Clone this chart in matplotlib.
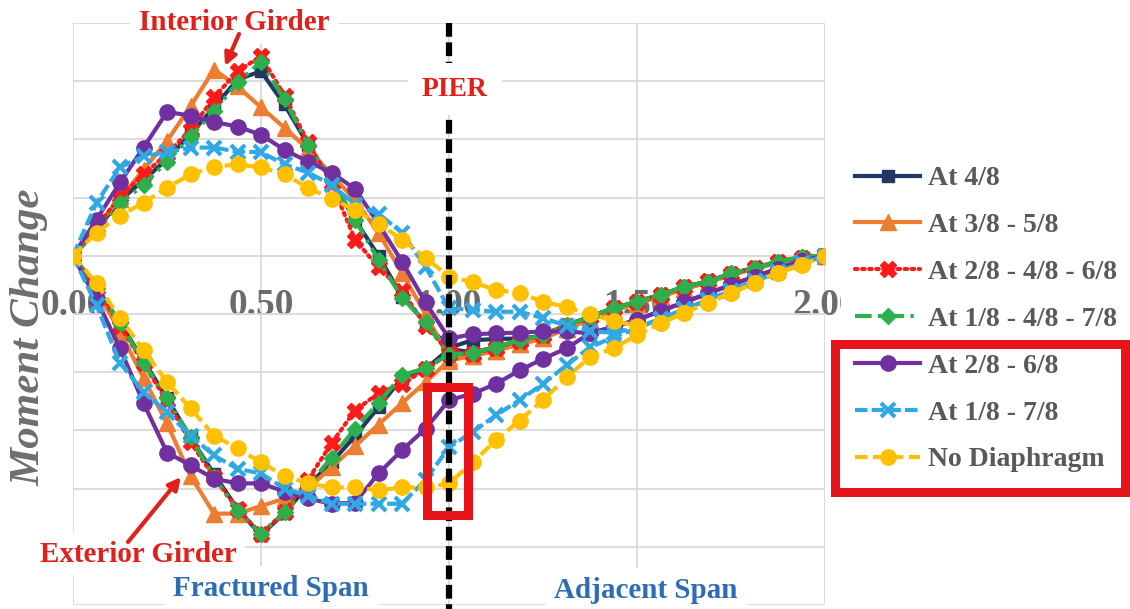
import numpy as np
import matplotlib
matplotlib.use('Agg')
from matplotlib import pyplot as plt
from matplotlib.patches import Rectangle, FancyArrowPatch

plt.rcParams['font.family'] = ['Liberation Serif', 'DejaVu Serif']
plt.rcParams['font.weight'] = 'bold'

W, H = 1130, 609

# span position (0-1 fractured span, 1-2 adjacent span), 1/16 steps
x = np.linspace(0, 2, 33)
x_ticks = [0.0, 0.5, 1.0, 1.5, 2.0]
x_tick_labels = ['0.00', '0.50', '1.00', '1.50', '2.00']
pier_x = 1.0
box_x = [0.941, 1.051]
box_y = [-4.45, -2.26]

labels = ['At 4/8', 'At 3/8 - 5/8', 'At 2/8 - 4/8 - 6/8', 'At 1/8 - 4/8 - 7/8',
          'At 2/8 - 6/8', 'At 1/8 - 7/8', 'No Diaphragm']

# moment change, interior girder
int_48 = [0, 0.45, 0.95, 1.3, 1.66, 2.09, 2.55, 3.03, 3.17, 2.6, 1.91, 1.3, 0.62, 0.0, -0.7, -1.15, -1.58,
          -1.45, -1.43, -1.42, -1.38, -1.22, -1.05, -0.9, -0.79, -0.67, -0.54, -0.44, -0.31, -0.21, -0.1, -0.03, 0]
int_3858 = [0, 0.5, 0.98, 1.48, 1.97, 2.57, 3.2, 2.91, 2.55, 2.2, 1.83, 1.4, 0.95, 0.4, -0.3, -1.0, -1.75,
            -1.72, -1.63, -1.52, -1.42, -1.25, -1.1, -0.94, -0.82, -0.7, -0.57, -0.46, -0.33, -0.22, -0.12, -0.04, 0]
int_284868 = [0, 0.5, 1.02, 1.4, 1.75, 2.17, 2.72, 3.17, 3.43, 2.75, 1.95, 1.25, 0.28, -0.2, -0.6, -1.2, -1.65,
              -1.68, -1.58, -1.46, -1.36, -1.2, -1.05, -0.9, -0.79, -0.67, -0.54, -0.44, -0.31, -0.21, -0.1, -0.03, 0]
int_184878 = [0, 0.42, 0.9, 1.22, 1.62, 2.05, 2.48, 2.98, 3.33, 2.69, 1.91, 1.3, 0.62, -0.07, -0.72, -1.14, -1.7,
              -1.67, -1.57, -1.45, -1.36, -1.19, -1.05, -0.9, -0.79, -0.67, -0.53, -0.45, -0.3, -0.21, -0.1, -0.02, 0]
int_2868 = [0, 0.62, 1.26, 1.86, 2.47, 2.41, 2.3, 2.22, 2.08, 1.82, 1.62, 1.43, 1.15, 0.55, -0.1, -0.8, -1.42,
            -1.35, -1.33, -1.32, -1.3, -1.3, -1.33, -1.22, -1.1, -0.95, -0.8, -0.65, -0.5, -0.36, -0.22, -0.09, 0]
int_1878 = [0, 0.91, 1.52, 1.71, 1.78, 1.86, 1.86, 1.79, 1.78, 1.57, 1.43, 1.22, 0.88, 0.72, 0.4, -0.19, -0.9,
            -0.93, -0.96, -0.96, -1.07, -1.2, -1.3, -1.32, -1.24, -1.08, -0.92, -0.76, -0.6, -0.44, -0.28, -0.13, 0]
int_none = [0, 0.4, 0.69, 0.91, 1.17, 1.4, 1.53, 1.57, 1.52, 1.4, 1.17, 0.98, 0.79, 0.55, 0.28, -0.03, -0.36,
            -0.45, -0.59, -0.64, -0.79, -0.88, -1.0, -1.12, -1.2, -1.16, -0.98, -0.81, -0.64, -0.47, -0.29, -0.16, 0]

# moment change, exterior girder
ext_48 = [0, -0.55, -1.15, -1.8, -2.45, -3.12, -3.75, -4.35, -4.8, -4.42, -3.95, -3.55, -3.1, -2.6, -2.1, -1.95, -1.6,
          -1.66, -1.57, -1.45, -1.36, -1.19, -1.05, -0.9, -0.79, -0.67, -0.54, -0.44, -0.31, -0.21, -0.1, -0.03, 0]
ext_3858 = [0, -0.6, -1.3, -2.1, -2.88, -3.78, -4.43, -4.43, -4.3, -4.17, -4.0, -3.63, -3.27, -2.9, -2.53, -2.17, -1.8,
            -1.72, -1.63, -1.52, -1.42, -1.25, -1.1, -0.94, -0.82, -0.7, -0.57, -0.46, -0.33, -0.22, -0.12, -0.04, 0]
ext_284868 = [0, -0.55, -1.2, -1.85, -2.5, -3.2, -3.8, -4.35, -4.78, -4.4, -3.85, -3.22, -2.66, -2.36, -2.2, -1.95, -1.68,
              -1.68, -1.58, -1.46, -1.36, -1.2, -1.05, -0.9, -0.79, -0.67, -0.54, -0.44, -0.31, -0.21, -0.1, -0.03, 0]
ext_184878 = [0, -0.55, -1.15, -1.84, -2.45, -3.12, -3.8, -4.38, -4.78, -4.41, -3.95, -3.47, -2.97, -2.53, -2.05, -1.93, -1.7,
              -1.67, -1.57, -1.45, -1.36, -1.19, -1.05, -0.9, -0.79, -0.67, -0.53, -0.45, -0.3, -0.21, -0.1, -0.02, 0]
ext_2868 = [0, -0.75, -1.59, -2.53, -3.38, -3.6, -3.83, -3.91, -3.91, -4.05, -4.17, -4.26, -4.24, -3.74, -3.34, -2.97, -2.48,
            -2.37, -2.2, -1.97, -1.77, -1.59, -1.33, -1.22, -1.1, -0.95, -0.8, -0.65, -0.5, -0.36, -0.22, -0.09, 0]
ext_1878 = [0, -0.85, -1.84, -2.34, -2.69, -3.09, -3.43, -3.66, -3.74, -4.0, -4.12, -4.26, -4.26, -4.26, -4.26, -3.85, -3.29,
            -3.03, -2.74, -2.48, -2.2, -1.88, -1.57, -1.4, -1.24, -1.08, -0.92, -0.76, -0.6, -0.44, -0.28, -0.13, 0]
ext_none = [0, -0.47, -1.07, -1.62, -2.17, -2.62, -3.09, -3.31, -3.55, -3.78, -3.91, -3.98, -3.98, -4.03, -3.98, -3.98, -3.91,
            -3.55, -3.17, -2.83, -2.48, -2.09, -1.74, -1.59, -1.36, -1.16, -0.98, -0.81, -0.64, -0.47, -0.29, -0.16, 0]

interior = [int_48, int_3858, int_284868, int_184878, int_2868, int_1878, int_none]
exterior = [ext_48, ext_3858, ext_284868, ext_184878, ext_2868, ext_1878, ext_none]

# line styles per series
colors = ['#203864', '#ED7D31', '#FF1A1A', '#2DB04B', '#7030A0', '#2FA8E4', '#FFC000']
styles = ['-', '-', (0, (0.6, 1.1)), (0, (4, 1.5, 0.8, 1.5)), '-', (0, (3, 1)), (0, (3, 1.3))]
markers = ['s', '^', 'X', 'D', 'o', 'x', 'o']
msizes = [9, 11, 11, 8, 11, 10, 11]


def px(xp, yp):
    # pixel position -> figure fraction
    return xp / W, 1 - yp / H


fig = plt.figure(figsize=(W / 100, H / 100), dpi=100)
ax = fig.add_axes([73 / W, 4 / H, 752 / W, 582 / H])

for i in range(len(labels)):
    for j, ys in enumerate([interior[i], exterior[i]]):
        ax.plot(x, ys, color=colors[i], linestyle=styles[i], lw=3,
                marker=markers[i], markersize=msizes[i], markeredgewidth=3 if markers[i] == 'x' else 1,
                markeredgecolor=colors[i], dash_capstyle='round' if i == 2 else 'butt',
                label=labels[i] if j == 0 else None, zorder=3 + i * 0.1)

ax.set_xlim(0, 2)
ax.set_ylim(-6, 4)
ax.set_xticks(x_ticks)
ax.set_xticklabels(x_tick_labels)
ax.set_yticks(np.arange(-6, 5))
ax.set_yticklabels([])
ax.grid(color='#D9D9D9', lw=1.3)
ax.set_axisbelow(True)
for s in ['top', 'right', 'left']:
    ax.spines[s].set_visible(False)
ax.spines['bottom'].set_position(('data', 0))
ax.spines['bottom'].set_visible(False)
ax.tick_params(axis='x', length=0, pad=23, labelsize=27, labelcolor='#6B6B6B')
ax.tick_params(axis='y', length=0)

# pier line
ax.plot([pier_x, pier_x], [4, -6.2], color='black', lw=4.5, linestyle=(0, (2.2, 0.9)),
        clip_on=False, zorder=10)
ax.add_patch(Rectangle((box_x[0], box_y[0]), box_x[1] - box_x[0], box_y[1] - box_y[0],
                       fill=False, ec='#E8141B', lw=6.5, zorder=11))

fig.text(*px(30, 337), 'Moment Change', rotation=90, ha='center', va='center',
         fontsize=31, style='italic', color='#6E6E6E')

red = '#E0201B'
blue = '#2E6DB4'
fig.text(*px(455, 89), 'PIER', ha='center', va='center', fontsize=20, color=red, zorder=12,
         bbox=dict(boxstyle='square,pad=0.5', fc='white', ec='none'))
fig.text(*px(234, 22), 'Interior Girder', ha='center', va='center', fontsize=21, color=red,
         bbox=dict(boxstyle='square,pad=0.3', fc='white', ec='none'))
fig.text(*px(138, 554), 'Exterior Girder', ha='center', va='center', fontsize=21, color=red,
         bbox=dict(boxstyle='square,pad=0.3', fc='white', ec='none'))
fig.text(*px(271, 588), 'Fractured Span', ha='center', va='center', fontsize=21, color=blue,
         bbox=dict(boxstyle='square,pad=0.3', fc='white', ec='none'))
fig.text(*px(646, 590), 'Adjacent Span', ha='center', va='center', fontsize=21, color=blue,
         bbox=dict(boxstyle='square,pad=0.3', fc='white', ec='none'))

# arrows to the girder groups
for start, end in [((239, 34), (225, 66)), ((128, 542), (181, 477))]:
    fig.add_artist(FancyArrowPatch(px(*start), px(*end), transform=fig.transFigure,
                                   arrowstyle='-|>', mutation_scale=18, color=red, lw=3,
                                   shrinkA=0, shrinkB=0, zorder=25))

leg = ax.legend(loc='upper left', bbox_to_anchor=px(841, 152), bbox_transform=fig.transFigure,
                fontsize=20, labelcolor='#595959', numpoints=1, handlelength=2.35,
                handletextpad=0.3, labelspacing=0.77, borderpad=0.5, borderaxespad=0,
                frameon=True, fancybox=False, edgecolor='none', facecolor='white', framealpha=1)
leg.set_zorder(20)

fig.patches.append(Rectangle(px(835, 492), 290 / W, 148 / H, transform=fig.transFigure,
                             fill=False, ec='#E8141B', lw=6.5, zorder=30, figure=fig))

fig.savefig('out.png', dpi=100)
